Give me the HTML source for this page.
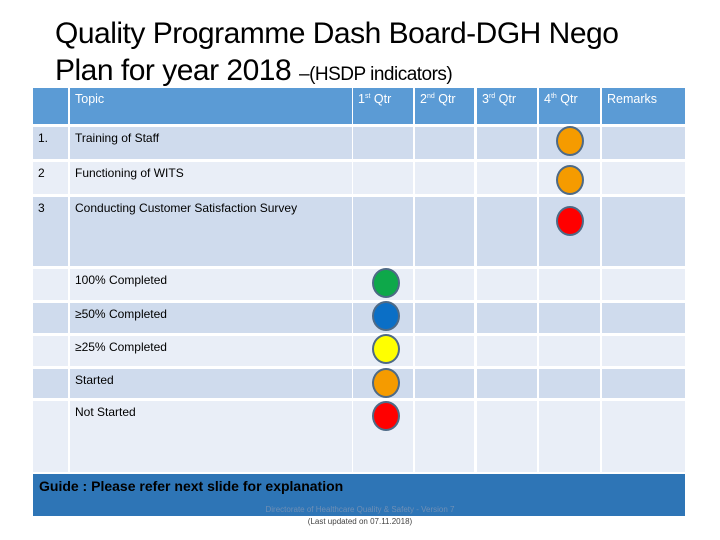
<!DOCTYPE html>
<html><head><meta charset="utf-8"><style>
body{margin:0;width:720px;height:540px;background:#fff;position:relative;overflow:hidden;font-family:"Liberation Sans Narrow","Liberation Sans",sans-serif}
.a{position:absolute}
.t{font-size:30px;color:#000;letter-spacing:-0.5px;white-space:nowrap;line-height:32px}
.c{position:absolute;box-sizing:border-box;font-size:12px;color:#000;padding:4px 5px}
.h{background:#5b9bd5;color:#fff;font-size:12.5px}
.o{background:#cfdbed}.e{background:#e9eef7}
.dot{position:absolute;width:28px;height:30px;border-radius:50%;border:2px solid #4e6a86;box-sizing:border-box}
sup{font-size:7px}
</style></head><body>
<div class="a t" style="left:55px;top:18px">Quality Programme Dash Board-DGH Nego</div>
<div class="a t" style="left:55px;top:55px">Plan for year 2018 <span style="font-size:19px">–(HSDP indicators)</span></div>
<div id="tbl"></div>
<div class="a" style="left:33px;top:474px;width:652px;height:42px;background:#2e75b6"></div>
<div class="a" style="left:39px;top:478px;font-size:14px;font-weight:bold;color:#000">Guide : Please refer next slide for explanation</div>
<div class="a" style="left:200px;width:320px;text-align:center;top:505px;font-size:8px;color:#6f8fb5">Directorate of Healthcare Quality &amp; Safety - Version 7</div>
<div class="a" style="left:200px;width:320px;text-align:center;top:517px;font-size:8px;color:#444">(Last updated on 07.11.2018)</div>
<script>
const cols=[[33,35],[70,282],[353,60],[415,59],[477,60],[539,61],[602,83]];
const rows=[[88,36],[127,32],[162,32],[197,69],[269,31],[303,30],[336,30],[369,29],[401,71]];
const cells=[
["","Topic","1<sup>st</sup> Qtr","2<sup>nd</sup> Qtr","3<sup>rd</sup> Qtr","4<sup>th</sup> Qtr","Remarks"],
["1.","Training of Staff"],["2","Functioning of WITS"],["3","Conducting Customer Satisfaction Survey"],
["","100% Completed"],["","≥50% Completed"],["","≥25% Completed"],["","Started"],["","Not Started"]];
const tbl=document.getElementById('tbl');
rows.forEach((r,i)=>{cols.forEach((c,j)=>{
 const d=document.createElement('div');
 d.className='c '+(i==0?'h':(i%2?'o':'e'));
 
 
 d.style.left=c[0]+'px';d.style.top=r[0]+'px';d.style.width=c[1]+'px';d.style.height=r[1]+'px';
 d.innerHTML=cells[i][j]||'';tbl.appendChild(d);});});
const dots=[[570,141,'#f59b00'],[570,180,'#f59b00'],[570,221,'#ff0000'],[386,283,'#0ea84a'],[386,316,'#0b6fc6'],[386,349,'#ffff00'],[386,383,'#f59b00'],[386,416,'#ff0000']];
dots.forEach(p=>{const d=document.createElement('div');d.className='dot';
 
 
 d.style.left=(p[0]-14)+'px';d.style.top=(p[1]-15)+'px';d.style.background=p[2];document.body.appendChild(d);});
</script>
</body></html>
